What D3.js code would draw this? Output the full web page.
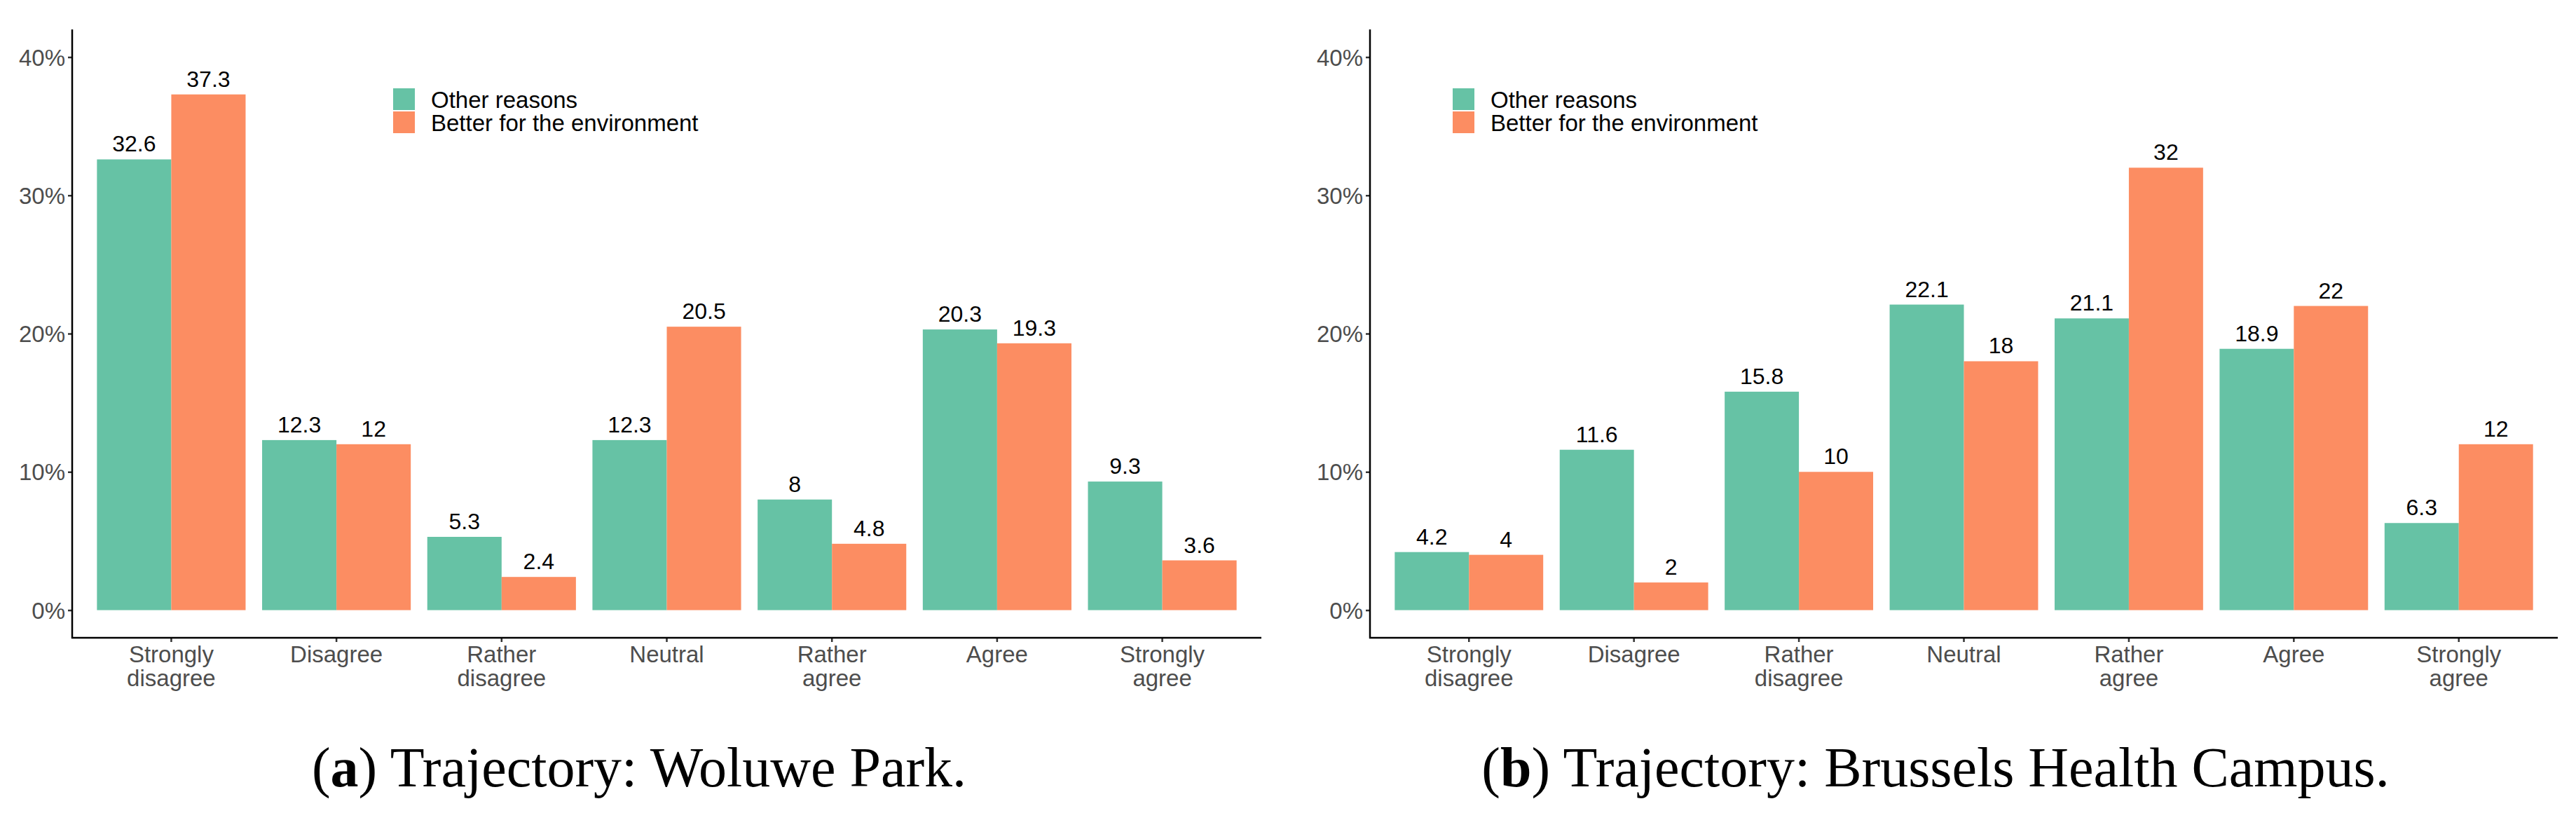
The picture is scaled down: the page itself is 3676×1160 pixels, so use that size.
<!DOCTYPE html>
<html>
<head>
<meta charset="utf-8">
<script src="https://cdn.jsdelivr.net/npm/d3@7"></script>
<style>
  body { margin: 0; background: #fff; }
  svg { display: block; }
</style>
</head>
<body>
<div id="chart"></div>
<script>
// data
var categories = ["Strongly disagree", "Disagree", "Rather disagree", "Neutral", "Rather agree", "Agree", "Strongly agree"];
var categoryLines = [["Strongly", "disagree"], ["Disagree"], ["Rather", "disagree"], ["Neutral"], ["Rather", "agree"], ["Agree"], ["Strongly", "agree"]];
var series = ["Other reasons", "Better for the environment"];
var colors = ["#66c2a5", "#fc8d62"];
var yTicks = [0, 10, 20, 30, 40];

var woluweOther = [32.6, 12.3, 5.3, 12.3, 8, 20.3, 9.3];
var woluweEnv = [37.3, 12, 2.4, 20.5, 4.8, 19.3, 3.6];
var campusOther = [4.2, 11.6, 15.8, 22.1, 21.1, 18.9, 6.3];
var campusEnv = [4, 2, 10, 18, 32, 22, 12];

var W = 3676, H = 1160;
var svg = d3.select("#chart").append("svg")
  .attr("width", W).attr("height", H)
  .style("background-color", "#ffffff");

var sans = "'Liberation Sans', Arial, sans-serif";

function drawPanel(opts) {
  var g = svg.append("g");
  var x = d3.scaleBand().domain(categories).range([opts.x0, opts.x1])
    .paddingInner(0.1).paddingOuter(0.15);
  var xs = d3.scaleBand().domain(series).range([0, x.bandwidth()]);
  var y = d3.scaleLinear().domain([-2, 42]).range([910, 42]);

  var rows = categories.map(function(c, i) {
    return { cat: c, vals: [opts.other[i], opts.env[i]] };
  });

  var grp = g.selectAll(".grp").data(rows).enter().append("g")
    .attr("transform", function(d) { return "translate(" + x(d.cat) + ",0)"; });

  grp.selectAll("rect")
    .data(function(d) { return d.vals.map(function(v, j) { return { s: series[j], v: v, j: j }; }); })
    .enter().append("rect")
    .attr("x", function(d) { return xs(d.s); })
    .attr("width", xs.bandwidth())
    .attr("y", function(d) { return y(d.v); })
    .attr("height", function(d) { return y(0) - y(d.v); })
    .attr("fill", function(d) { return colors[d.j]; });

  grp.selectAll("text")
    .data(function(d) { return d.vals.map(function(v, j) { return { s: series[j], v: v }; }); })
    .enter().append("text")
    .attr("x", function(d) { return xs(d.s) + xs.bandwidth() / 2; })
    .attr("y", function(d) { return y(d.v) - 11; })
    .attr("text-anchor", "middle")
    .style("font-family", sans).style("font-size", "32px").style("fill", "#000")
    .text(function(d) { return d.v; });

  // y axis
  var yAxis = g.append("g").attr("transform", "translate(" + opts.x0 + ",0)")
    .call(d3.axisLeft(y).tickValues(yTicks).tickSize(6).tickPadding(4)
      .tickFormat(function(d) { return d + "%"; }));
  yAxis.select(".domain").remove();
  yAxis.selectAll(".tick line").attr("stroke", "#333").attr("stroke-width", 2.5);
  yAxis.selectAll(".tick text").style("font-family", sans).style("font-size", "33px")
    .style("fill", "#4d4d4d").attr("dy", "0.35em");

  // x axis
  var xAxis = g.append("g").attr("transform", "translate(0,910)")
    .call(d3.axisBottom(x).tickSize(6).tickFormat(""));
  xAxis.select(".domain").remove();
  xAxis.selectAll(".tick line").attr("stroke", "#333").attr("stroke-width", 2.5);

  g.selectAll(".xlab").data(categories).enter().append("text")
    .attr("class", "xlab")
    .attr("x", function(d) { return x(d) + x.bandwidth() / 2; })
    .attr("y", 945)
    .attr("text-anchor", "middle")
    .style("font-family", sans).style("font-size", "33px").style("fill", "#4d4d4d")
    .each(function(d, i) {
      var t = d3.select(this);
      categoryLines[i].forEach(function(line, k) {
        t.append("tspan").attr("x", x(d) + x.bandwidth() / 2).attr("dy", k === 0 ? 0 : 34).text(line);
      });
    });

  // axis lines
  g.append("line").attr("x1", opts.x0).attr("x2", opts.x0).attr("y1", 42).attr("y2", 911)
    .attr("stroke", "#000").attr("stroke-width", 2.5);
  g.append("line").attr("x1", opts.x0 - 1).attr("x2", opts.x1).attr("y1", 910).attr("y2", 910)
    .attr("stroke", "#000").attr("stroke-width", 2.5);

  // legend
  var leg = g.selectAll(".leg").data(series).enter().append("g")
    .attr("transform", function(d, i) { return "translate(" + opts.legX + "," + (126 + i * 33) + ")"; });
  leg.append("rect").attr("width", 31).attr("height", 31)
    .attr("fill", function(d, i) { return colors[i]; });
  leg.append("text").attr("x", 54).attr("y", 16).attr("dy", "0.35em")
    .style("font-family", sans).style("font-size", "33px").style("fill", "#000")
    .text(function(d) { return d; });

  // caption
  var cap = svg.append("text").attr("x", opts.capX).attr("y", 1122)
    .attr("text-anchor", "middle")
    .style("font-family", "'Liberation Serif', 'Times New Roman', serif")
    .style("font-size", "80px").style("fill", "#000");
  cap.append("tspan").text("(");
  cap.append("tspan").style("font-weight", "bold").text(opts.letter);
  cap.append("tspan").text(") " + opts.caption);
}

drawPanel({ x0: 103, x1: 1800, other: woluweOther, env: woluweEnv, legX: 561,
  capX: 912, letter: "a", caption: "Trajectory: Woluwe Park." });
drawPanel({ x0: 1955, x1: 3650, other: campusOther, env: campusEnv, legX: 2073,
  capX: 2762, letter: "b", caption: "Trajectory: Brussels Health Campus." });
</script>
</body>
</html>
